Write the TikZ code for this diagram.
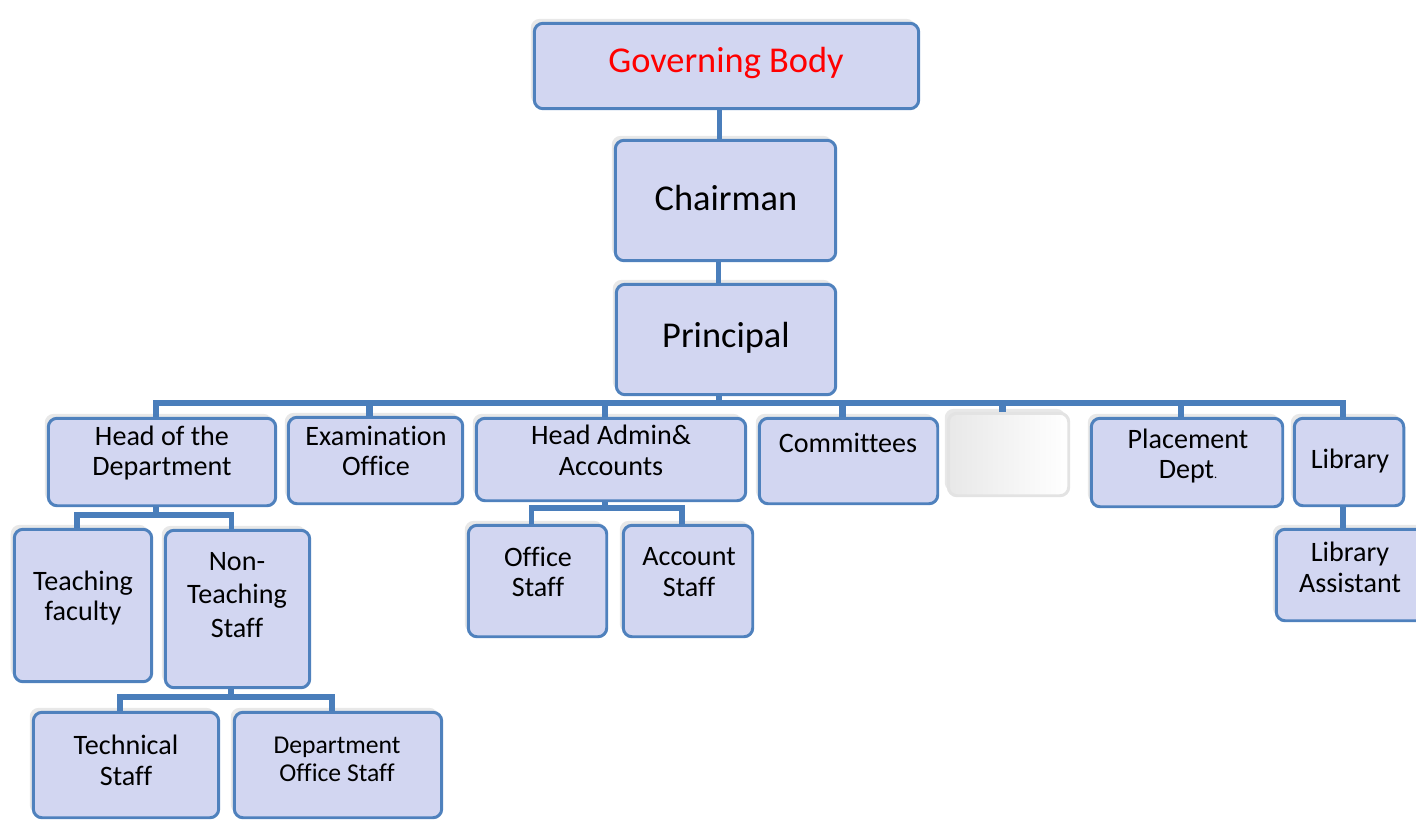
\documentclass[tikz,border=0pt]{standalone}
\usepackage{fontspec}
\setmainfont[Ligatures=CommonOff]{Carlito}
\usetikzlibrary{shadows}

\definecolor{boxline}{RGB}{79,129,189}
\definecolor{boxfill}{RGB}{210,214,241}
\definecolor{linkblue}{RGB}{74,126,187}

\begin{document}
\begin{tikzpicture}[x=0.02cm, y=-0.02cm]
\tikzstyle{box} = [rectangle, rounded corners=5pt, draw=boxline, line width=1.7pt, fill=boxfill,
  general shadow={fill=gray!18, shadow xshift=-2pt, shadow yshift=2.5pt}]
\tikzstyle{blank box} = [box, draw=gray!22, left color=gray!18, right color=white]
\tikzstyle{link} = [draw=linkblue, line width=3.3pt]
\tikzstyle{big} = [font=\fontsize{20.7}{24}\selectfont]
\tikzstyle{txt} = [align=center, font=\fontsize{16}{17.5}\selectfont]

\useasboundingbox (0,0) rectangle (1416,821);

% top of the chart
\node[box, minimum width=7.69cm, minimum height=1.71cm] (gov) at (726.5,66) {};
\node[box, minimum width=4.41cm, minimum height=2.41cm] (chair) at (725.5,200.5) {};
\node[box, minimum width=4.39cm, minimum height=2.21cm] (princ) at (726,339.5) {};

% second row
\node[box, minimum width=4.55cm, minimum height=1.75cm] (hod) at (162,462) {};
\node[box, minimum width=3.49cm, minimum height=1.73cm] (exam) at (375.5,460.5) {};
\node[box, minimum width=5.39cm, minimum height=1.65cm] (admin) at (611,459.5) {};
\node[box, minimum width=3.57cm, minimum height=1.71cm] (comm) at (848.5,461) {};
\node[blank box, minimum width=2.41cm, minimum height=1.65cm] (blank) at (1008.5,454.5) {};
\node[box, minimum width=3.83cm, minimum height=1.77cm] (place) at (1187,462.5) {};
\node[box, minimum width=2.19cm, minimum height=1.75cm] (lib) at (1349,462) {};

% lower rows
\node[box, minimum width=2.75cm, minimum height=3.05cm] (teach) at (83,605.5) {};
\node[box, minimum width=2.89cm, minimum height=3.15cm] (nonteach) at (237.5,609) {};
\node[box, minimum width=3.71cm, minimum height=2.11cm] (tech) at (126,765) {};
\node[box, minimum width=4.15cm, minimum height=2.11cm] (deptoff) at (338,765) {};
\node[box, minimum width=2.77cm, minimum height=2.23cm] (offstaff) at (537.5,581) {};
\node[box, minimum width=2.59cm, minimum height=2.23cm] (accstaff) at (688,581) {};
\node[box, minimum width=3.05cm, minimum height=1.83cm] (libasst) at (1352.5,575) {};

% texts
\node[big, text=red] (govtext) at (726,63) {Governing Body};
\node[big] (chairtext) at (726,198) {Chairman};
\node[big] (princtext) at (726,338) {Principal};
\node[txt] (hodtext) at (162,453) {Head of the\\Department};
\node[txt] (examtext) at (376,451) {Examination\\Office};
\node[txt] (admintext) at (611,450) {Head Admin\&\\Accounts};
\node[txt] (commtext) at (848,443) {Committees};
\node[txt] (placetext) at (1188,456) {Placement\\Dept{\fontsize{7}{8}\selectfont.}};
\node[txt] (libtext) at (1350,461) {Library};
\node[txt] (teachtext) at (83,598) {Teaching\\faculty};
\node[txt, font=\fontsize{16}{19.3}\selectfont] (nonteachtext) at (237,595) {Non-\\Teaching\\Staff};
\node[txt] (techtext) at (126,760) {Technical\\Staff};
\node[txt, font=\fontsize{14.6}{16}\selectfont] (deptofftext) at (337,759) {Department\\Office Staff};
\node[txt] (offstafftext) at (538,572) {Office\\Staff};
\node[txt] (accstafftext) at (689,572) {Account\\Staff};
\node[txt] (libassttext) at (1350,567) {Library\\Assistant};

% connectors
\coordinate (bus) at (719,403);
\coordinate (hodbus) at (156,515);
\coordinate (ntbus) at (231,697);
\coordinate (adbus) at (605,508);

\draw[link] ([xshift=-0.14cm]gov.south) -- ([xshift=-0.14cm]gov.south |- chair.north);
\draw[link] ([xshift=-0.14cm]chair.south) -- ([xshift=-0.14cm]chair.south |- princ.north);
\draw[link] (bus |- princ.south) -- (bus);
\foreach \n in {hod,exam,admin,comm,blank,place,lib}
  \draw[link, line width=3.8pt] (bus) -| ([xshift=-0.12cm]\n.north);

\draw[link] (hodbus |- hod.south) -- (hodbus);
\foreach \n in {teach,nonteach}
  \draw[link] (hodbus) -| ([xshift=-0.12cm]\n.north);

\draw[link] (ntbus |- nonteach.south) -- (ntbus);
\foreach \n in {tech,deptoff}
  \draw[link] (ntbus) -| ([xshift=-0.12cm]\n.north);

\draw[link] (adbus |- admin.south) -- (adbus);
\foreach \n in {offstaff,accstaff}
  \draw[link] (adbus) -| ([xshift=-0.12cm]\n.north);

\draw[link] ([xshift=-0.12cm]lib.south) -- ([xshift=-0.12cm]lib.south |- libasst.north);
\end{tikzpicture}
\end{document}
